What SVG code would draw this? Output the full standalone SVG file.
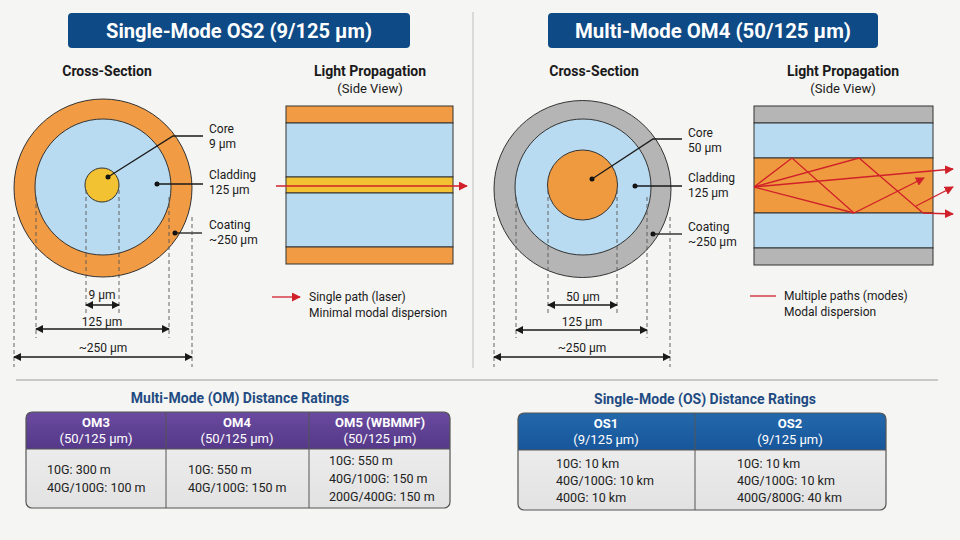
<svg xmlns="http://www.w3.org/2000/svg" width="960" height="540" viewBox="0 0 960 540">
<defs>
<marker id="ah" viewBox="0 0 10 10" refX="9" refY="5" markerWidth="8" markerHeight="8" markerUnits="userSpaceOnUse" orient="auto-start-reverse"><path d="M0,0 L10,5 L0,10 z" fill="#1a1a1a"/></marker>
<marker id="rh" viewBox="0 0 10 10" refX="9" refY="5" markerWidth="9" markerHeight="9" markerUnits="userSpaceOnUse" orient="auto"><path d="M0,0 L10,5 L0,10 z" fill="#d0202a"/></marker>
<linearGradient id="bodyg" x1="0" y1="0" x2="0" y2="1"><stop offset="0" stop-color="#f2f2f2"/><stop offset="1" stop-color="#e2e2e2"/></linearGradient>
<linearGradient id="purp" x1="0" y1="0" x2="0" y2="1"><stop offset="0" stop-color="#6a4ba0"/><stop offset="1" stop-color="#553888"/></linearGradient>
<linearGradient id="blu" x1="0" y1="0" x2="0" y2="1"><stop offset="0" stop-color="#2468ac"/><stop offset="1" stop-color="#17569a"/></linearGradient>
</defs>
<style>
.bar{fill:#0e4a86}
.bt{font-family:Roboto,"Liberation Sans",sans-serif;font-weight:bold;font-size:20px;fill:#fff;text-anchor:middle}
.h{font-family:Roboto,"Liberation Sans",sans-serif;font-weight:bold;font-size:14px;fill:#1a1a1a;text-anchor:middle}
.sv{font-family:Roboto,"Liberation Sans",sans-serif;font-size:13px;fill:#1a1a1a;text-anchor:middle}
.t{font-family:Roboto,"Liberation Sans",sans-serif;font-size:12px;fill:#1a1a1a}
.tc{font-family:Roboto,"Liberation Sans",sans-serif;font-size:12px;fill:#1a1a1a;text-anchor:middle}
.ring{stroke:#333;stroke-width:1}
.lead{stroke:#1a1a1a;stroke-width:1.3;fill:none}
.dash{stroke:#555;stroke-width:0.9;stroke-dasharray:4 3}
.dim{stroke:#1a1a1a;stroke-width:1.4;marker-start:url(#ah);marker-end:url(#ah)}
.red{stroke:#d0202a;stroke-width:1.3;fill:none}
.band{stroke:#333;stroke-width:1}
.tt{font-family:Roboto,"Liberation Sans",sans-serif;font-weight:bold;font-size:14px;fill:#1f4b82;text-anchor:middle}
.th{font-family:Roboto,"Liberation Sans",sans-serif;font-weight:bold;font-size:13px;fill:#fff;text-anchor:middle}
.thr{font-family:Roboto,"Liberation Sans",sans-serif;font-size:13px;fill:#fff;text-anchor:middle}
.td{font-family:Roboto,"Liberation Sans",sans-serif;font-size:12.5px;fill:#222}
</style>
<rect width="960" height="540" fill="#f5f5f3"/>
<line x1="473" y1="12" x2="473" y2="368" stroke="#d0d0d0" stroke-width="1.5"/>
<line x1="16" y1="380" x2="938" y2="380" stroke="#c9c9c9" stroke-width="2"/>

<g id="sm-title"><rect class="bar" x="68" y="13" width="342" height="35" rx="4"/><text class="bt" x="239" y="38" textLength="266" lengthAdjust="spacingAndGlyphs">Single-Mode OS2 (9/125 µm)</text></g>
<g id="mm-title"><rect class="bar" x="548" y="13" width="330" height="35" rx="4"/><text class="bt" x="713" y="38" textLength="276" lengthAdjust="spacingAndGlyphs">Multi-Mode OM4 (50/125 µm)</text></g>

<g id="sm-cross">
<text class="h" x="107" y="76">Cross-Section</text>
<circle class="ring" cx="103" cy="188" r="89" fill="#f19c44"/>
<circle class="ring" cx="103" cy="187" r="68" fill="#b9dbf1"/>
<circle class="ring" cx="102" cy="185" r="17" fill="#f2c232"/>
<circle cx="108" cy="177" r="2.5" fill="#111"/>
<polyline class="lead" points="108,177 173,136 203,136"/>
<text class="t" x="209" y="133">Core</text><text class="t" x="209" y="148">9 µm</text>
<circle cx="157" cy="184" r="2.5" fill="#111"/>
<line class="lead" x1="157" y1="184" x2="203" y2="184"/>
<text class="t" x="209" y="179">Cladding</text><text class="t" x="209" y="194">125 µm</text>
<circle cx="175" cy="233" r="2.5" fill="#111"/>
<line class="lead" x1="175" y1="233" x2="202" y2="233"/>
<text class="t" x="209" y="229">Coating</text><text class="t" x="209" y="244">~250 µm</text>
<line class="dash" x1="86" y1="190" x2="86" y2="313"/><line class="dash" x1="119" y1="190" x2="119" y2="313"/>
<line class="dim" x1="86" y1="305" x2="119" y2="305"/><text class="tc" x="102" y="299">9 µm</text>
<line class="dash" x1="36" y1="197" x2="36" y2="338"/><line class="dash" x1="169" y1="197" x2="169" y2="338"/>
<line class="dim" x1="36" y1="329" x2="169" y2="329"/><text class="tc" x="102" y="326">125 µm</text>
<line class="dash" x1="14" y1="217" x2="14" y2="367"/><line class="dash" x1="192" y1="217" x2="192" y2="367"/>
<line class="dim" x1="14" y1="357" x2="192" y2="357"/><text class="tc" x="103" y="352">~250 µm</text>
</g>

<g id="sm-side">
<text class="h" x="370" y="76">Light Propagation</text><text class="sv" x="370" y="93">(Side View)</text>
<rect class="band" x="286" y="106" width="167" height="17" fill="#f19c44"/>
<rect class="band" x="286" y="123" width="167" height="54" fill="#b9dbf1"/>
<rect class="band" x="286" y="177" width="167" height="16" fill="#f2c232"/>
<rect class="band" x="286" y="193" width="167" height="54" fill="#b9dbf1"/>
<rect class="band" x="286" y="247" width="167" height="17" fill="#f19c44"/>
<line class="red" x1="276" y1="186" x2="467" y2="186" marker-end="url(#rh)"/>
<line class="red" x1="272" y1="297" x2="300" y2="297" stroke-width="2" marker-end="url(#rh)"/>
<text class="t" x="309" y="301">Single path (laser)</text>
<text class="t" x="309" y="317">Minimal modal dispersion</text>
</g>

<g id="mm-cross">
<text class="h" x="594" y="76">Cross-Section</text>
<circle class="ring" cx="582.5" cy="189" r="88.5" fill="#b5b5b5"/>
<circle class="ring" cx="583" cy="187" r="68" fill="#b9dbf1"/>
<circle class="ring" cx="582.5" cy="185" r="35" fill="#ef9a3e"/>
<circle cx="592" cy="179" r="2.5" fill="#111"/>
<polyline class="lead" points="592,179 653,139 682,139"/>
<text class="t" x="688" y="137">Core</text><text class="t" x="688" y="152">50 µm</text>
<circle cx="635" cy="186" r="2.5" fill="#111"/>
<line class="lead" x1="635" y1="186" x2="682" y2="186"/>
<text class="t" x="688" y="182">Cladding</text><text class="t" x="688" y="197">125 µm</text>
<circle cx="653" cy="234" r="2.5" fill="#111"/>
<line class="lead" x1="653" y1="234" x2="682" y2="234"/>
<text class="t" x="688" y="231">Coating</text><text class="t" x="688" y="246">~250 µm</text>
<line class="dash" x1="548" y1="190" x2="548" y2="313"/><line class="dash" x1="617" y1="190" x2="617" y2="313"/>
<line class="dim" x1="548" y1="305" x2="617" y2="305"/><text class="tc" x="583" y="301">50 µm</text>
<line class="dash" x1="516" y1="197" x2="516" y2="338"/><line class="dash" x1="647" y1="197" x2="647" y2="338"/>
<line class="dim" x1="516" y1="330" x2="647" y2="330"/><text class="tc" x="582" y="326">125 µm</text>
<line class="dash" x1="494" y1="217" x2="494" y2="367"/><line class="dash" x1="670" y1="217" x2="670" y2="367"/>
<line class="dim" x1="494" y1="357" x2="670" y2="357"/><text class="tc" x="582" y="352">~250 µm</text>
</g>

<g id="mm-side">
<text class="h" x="843" y="76">Light Propagation</text><text class="sv" x="843" y="93">(Side View)</text>
<rect class="band" x="754" y="106" width="179" height="17" fill="#b5b5b5"/>
<rect class="band" x="754" y="123" width="179" height="35" fill="#b9dbf1"/>
<rect class="band" x="754" y="158" width="179" height="55" fill="#ef9a3e"/>
<rect class="band" x="754" y="213" width="179" height="35" fill="#b9dbf1"/>
<rect class="band" x="754" y="248" width="179" height="17" fill="#b5b5b5"/>
<g id="rays">
<polyline class="red" points="754,187 792,158 854,213"/>
<line class="red" x1="754" y1="187" x2="854" y2="213"/>
<line class="red" x1="854" y1="213" x2="924" y2="178" marker-end="url(#rh)"/>
<polyline class="red" points="754,187 859,158 923,213"/>
<line class="red" x1="923" y1="213" x2="953" y2="214" marker-end="url(#rh)"/>
<line class="red" x1="754" y1="187" x2="953" y2="169" marker-end="url(#rh)"/>
<line class="red" x1="916" y1="206" x2="953" y2="187" marker-end="url(#rh)"/>
</g>
<line class="red" x1="750" y1="296" x2="776" y2="296" stroke-width="2"/>
<text class="t" x="784" y="300">Multiple paths (modes)</text>
<text class="t" x="784" y="316">Modal dispersion</text>
</g>

<g id="om-table">
<text class="tt" x="240" y="403">Multi-Mode (OM) Distance Ratings</text>
<rect x="26" y="412" width="424" height="96" rx="6" fill="url(#bodyg)"/>
<path d="M26,449 V418 a6,6 0 0 1 6,-6 H444 a6,6 0 0 1 6,6 V449 z" fill="url(#purp)"/>
<rect x="26" y="412" width="424" height="96" rx="6" fill="none" stroke="#555" stroke-width="1.2"/>
<line x1="26" y1="449" x2="450" y2="449" stroke="#555" stroke-width="1"/>
<line x1="166" y1="412" x2="166" y2="508" stroke="#555" stroke-width="1"/>
<line x1="309" y1="412" x2="309" y2="508" stroke="#555" stroke-width="1"/>
<text class="th" x="96" y="427">OM3</text><text class="thr" x="96" y="443">(50/125 µm)</text>
<text class="th" x="237" y="427">OM4</text><text class="thr" x="237" y="443">(50/125 µm)</text>
<text class="th" x="380" y="427">OM5 (WBMMF)</text><text class="thr" x="380" y="443">(50/125 µm)</text>
<text class="td" x="47" y="474">10G: 300 m</text><text class="td" x="47" y="492">40G/100G: 100 m</text>
<text class="td" x="188" y="474">10G: 550 m</text><text class="td" x="188" y="492">40G/100G: 150 m</text>
<text class="td" x="329" y="465">10G: 550 m</text><text class="td" x="329" y="483">40G/100G: 150 m</text><text class="td" x="329" y="501">200G/400G: 150 m</text>
</g>

<g id="os-table">
<text class="tt" x="705" y="404">Single-Mode (OS) Distance Ratings</text>
<rect x="518" y="413" width="368" height="97" rx="6" fill="url(#bodyg)"/>
<path d="M518,450 V419 a6,6 0 0 1 6,-6 H880 a6,6 0 0 1 6,6 V450 z" fill="url(#blu)"/>
<rect x="518" y="413" width="368" height="97" rx="6" fill="none" stroke="#555" stroke-width="1.2"/>
<line x1="518" y1="450" x2="886" y2="450" stroke="#555" stroke-width="1"/>
<line x1="695" y1="413" x2="695" y2="510" stroke="#555" stroke-width="1"/>
<text class="th" x="606" y="428">OS1</text><text class="thr" x="606" y="444">(9/125 µm)</text>
<text class="th" x="790" y="428">OS2</text><text class="thr" x="790" y="444">(9/125 µm)</text>
<text class="td" x="556" y="468">10G: 10 km</text><text class="td" x="556" y="485">40G/100G: 10 km</text><text class="td" x="556" y="502">400G: 10 km</text>
<text class="td" x="737" y="468">10G: 10 km</text><text class="td" x="737" y="485">40G/100G: 10 km</text><text class="td" x="737" y="502">400G/800G: 40 km</text>
</g>
</svg>
